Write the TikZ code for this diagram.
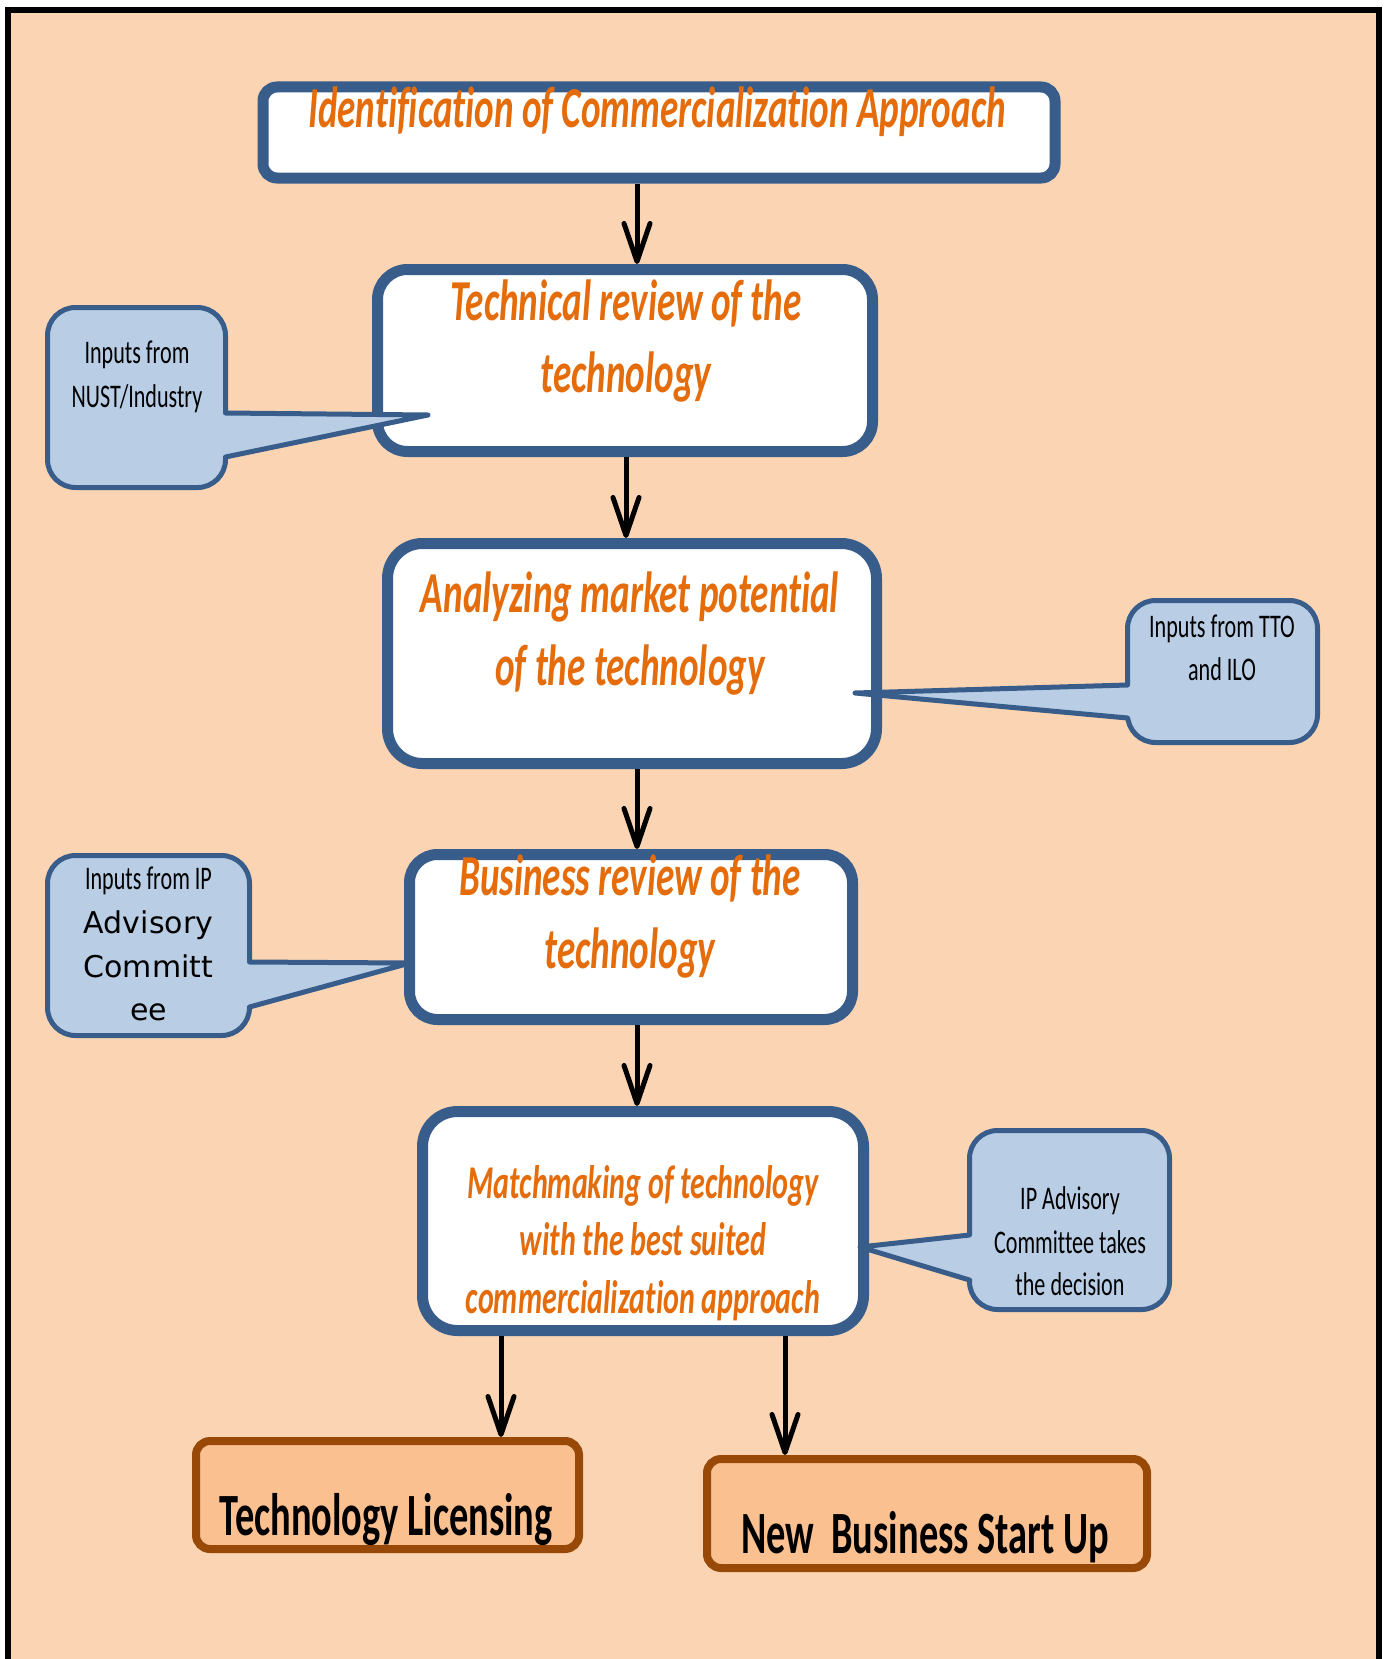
\documentclass[tikz,border=0pt]{standalone}
\usepackage{fontspec}
\usetikzlibrary{arrows.meta}
\newfontfamily\boxfont{Carlito}[FakeStretch=0.64, Ligatures=NoCommon]
\newfontfamily\notefont{Carlito}[FakeStretch=0.67, Ligatures=NoCommon]
\newfontfamily\widefont{DejaVu Sans}
\definecolor{peach}{HTML}{FBD4B4}
\definecolor{stageline}{HTML}{385D8A}
\definecolor{notefill}{HTML}{B9CDE5}
\definecolor{orangetext}{HTML}{E46C0A}
\definecolor{outfill}{HTML}{FAC090}
\definecolor{outline}{HTML}{984807}
\begin{document}
\begin{tikzpicture}[x=1pt,y=-1pt,
  stage/.style={draw=stageline, line width=11pt, fill=white, inner sep=0pt},
  outcome/.style={draw=outline, line width=8pt, fill=outfill, rounded corners=14pt, inner sep=0pt},
  note/.style={draw=stageline, line width=5pt, fill=notefill, rounded corners=28pt, inner sep=0pt},
  pointer/.style={draw=stageline, line width=5pt, line join=round, line cap=round},
  flow/.style={line width=5pt, -{Straight Barb[length=38pt,width=26pt,round]}},
  ttl/.style={text=orangetext, inner sep=0pt, anchor=base,
    font=\boxfont\bfseries\itshape\fontsize{58}{60}\selectfont},
  ttlsmall/.style={ttl, font=\boxfont\bfseries\itshape\fontsize{47}{50}\selectfont},
  outtext/.style={inner sep=0pt, anchor=base, font=\boxfont\bfseries\fontsize{60}{62}\selectfont},
  notetext/.style={inner sep=0pt, anchor=base, font=\notefont\fontsize{33}{35}\selectfont},
  notewide/.style={inner sep=0pt, anchor=base, font=\widefont\fontsize{30}{32}\selectfont}
]
\useasboundingbox (0,0) rectangle (1389,1659);
\fill[white] (0,0) rectangle (1389,1659);
% page frame, open at the bottom
\fill[peach] (8,10) rectangle (1379,1659);
\draw[black, line width=6pt] (8,1659) -- (8,10) -- (1379,10) -- (1379,1659);

% process stages
\node[stage, rounded corners=14pt, minimum width=792pt, minimum height=91pt] (b1) at (659,132.5) {};
\node[stage, rounded corners=30pt, minimum width=495pt, minimum height=182pt] (b2) at (625,360.5) {};
\node[stage, rounded corners=35pt, minimum width=489pt, minimum height=220pt] (b3) at (632,653.5) {};
\node[stage, rounded corners=28pt, minimum width=443pt, minimum height=165pt] (b4) at (631,937) {};
\node[stage, rounded corners=35pt, minimum width=441pt, minimum height=219pt] (b5) at (643,1221) {};

% outcomes
\node[outcome, minimum width=383pt, minimum height=108pt] (tl) at (387.5,1495) {};
\node[outcome, minimum width=440pt, minimum height=109pt] (nb) at (927,1513.5) {};

% stage texts
\node[ttl] (t1) at (657,128) {Identification of Commercialization Approach};
\node[ttl] (t2a) at (626,320) {Technical review of the};
\node[ttl] (t2b) at (626,392) {technology};
\node[ttl] (t3a) at (630,612) {Analyzing market potential};
\node[ttl] (t3b) at (630,685) {of the technology};
\node[ttl] (t4a) at (630,895) {Business review of the};
\node[ttl] (t4b) at (630,968) {technology};
\node[ttlsmall] (t5a) at (643,1198) {Matchmaking of technology};
\node[ttlsmall] (t5b) at (643,1255) {with the best suited};
\node[ttlsmall] (t5c) at (643,1313) {commercialization approach};
\node[outtext] (ttl1) at (386,1535) {Technology Licensing};
\node[outtext] (tnb1) at (925,1553) {New\ \ Business Start Up};

% flow arrows
\coordinate (xa) at (637,0);
\coordinate (xb) at (626,0);
\coordinate (xc) at (501,0);
\coordinate (xd) at (785,0);
\draw[flow] (b1.south -| xa) -- (b2.north -| xa);
\draw[flow] (b2.south -| xb) -- (b3.north -| xb);
\draw[flow] (b3.south -| xa) -- (b4.north -| xa);
\draw[flow] (b4.south -| xa) -- (b5.north -| xa);
\draw[flow] (b5.south -| xc) -- (tl.north -| xc);
\draw[flow] (b5.south -| xd) -- (nb.north -| xd);

% callouts
\node[note, minimum width=178pt, minimum height=180pt] (c1) at (136.5,397.5) {};
\fill[notefill] (220,413) -- (428,415) -- (220,457) -- cycle;
\draw[pointer] (225.5,413) -- (428,415) -- (225.5,457);

\node[note, minimum width=190pt, minimum height=142pt] (c2) at (1222.5,671.5) {};
\fill[notefill] (1133,685) -- (855,693) -- (1133,718) -- cycle;
\draw[pointer] (1127.5,685) -- (855,693) -- (1127.5,718);

\node[note, minimum width=202pt, minimum height=180pt] (c3) at (148.5,945.5) {};
\fill[notefill] (244,962) -- (410,963) -- (244,1007) -- cycle;
\draw[pointer] (249.5,962) -- (410,963) -- (249.5,1007);

\node[note, minimum width=200pt, minimum height=179pt] (c4) at (1069.5,1220) {};
\fill[notefill] (975,1235) -- (860,1247) -- (975,1280) -- cycle;
\draw[pointer] (969.5,1235) -- (860,1247) -- (969.5,1280);

% callout texts
\node[notetext] (n1a) at (137,363) {Inputs from};
\node[notetext] (n1b) at (137,407) {NUST/Industry};
\node[notetext] (n2a) at (1222,637) {Inputs from TTO};
\node[notetext] (n2b) at (1222,680) {and ILO};
\node[notetext] (n3a) at (148.5,889) {Inputs from IP};
\node[notewide] (n3b) at (148.5,933) {Advisory};
\node[notewide] (n3c) at (148.5,977) {Committ};
\node[notewide] (n3d) at (148.5,1020) {ee};
\node[notetext] (n4a) at (1070,1209) {IP Advisory};
\node[notetext] (n4b) at (1070,1253) {Committee takes};
\node[notetext] (n4c) at (1070,1295) {the decision};
\end{tikzpicture}
\end{document}
